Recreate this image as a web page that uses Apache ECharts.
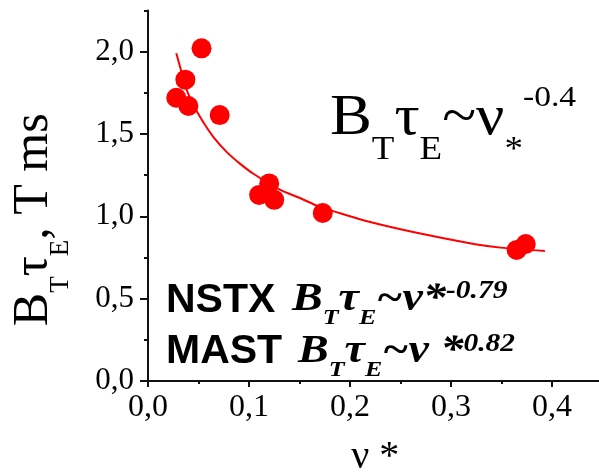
<!DOCTYPE html>
<html lang="en">
<head>
    <meta charset="UTF-8" />
    <title>BT tauE vs nu*</title>
    <script src="https://cdn.jsdelivr.net/npm/echarts@6/dist/echarts.min.js"></script>
    <style>
        html, body { margin: 0; padding: 0; background: #fff; }
    </style>
</head>
<body>
    <div id="main" style="width: 599px; height: 472px"></div>
    <script>
        // measured points
        var pointX = [0.053, 0.037, 0.028, 0.040, 0.071, 0.120, 0.110, 0.125, 0.173, 0.365, 0.374];
        var pointY = [2.02, 1.83, 1.72, 1.67, 1.615, 1.20, 1.13, 1.10, 1.02, 0.796, 0.832];
        // fit curve
        var curveX = [0.028, 0.033, 0.037, 0.043, 0.050, 0.057, 0.065, 0.078, 0.091, 0.104, 0.131, 0.151, 0.169, 0.184, 0.217, 0.266, 0.316, 0.349, 0.393];
        var curveY = [1.99, 1.88, 1.79, 1.70, 1.62, 1.55, 1.48, 1.39, 1.32, 1.26, 1.16, 1.11, 1.06, 1.03, 0.97, 0.90, 0.84, 0.81, 0.79];
        var xTicks = [0, 0.1, 0.2, 0.3, 0.4];
        var yTicks = [0, 0.5, 1.0, 1.5, 2.0];

        var serif = '"Liberation Serif", "Times New Roman", serif';
        var sans = '"Liberation Sans", Arial, sans-serif';

        function comma(v) {
            return v.toFixed(1).replace('.', ',');
        }
        function isIn(list, v) {
            return list.some(function (t) { return Math.abs(t - v) < 1e-6; });
        }

        var mCharts = echarts.init(document.getElementById('main'));

        var axisColor = '#111';

        // rich styles for formulas (tokens aligned to line top, shifted with padding)
        function tok(size, pad, weight, style, family) {
            return {
                fontFamily: family || serif,
                fontSize: size,
                lineHeight: size,
                fontWeight: weight || 'normal',
                fontStyle: style || 'normal',
                color: '#000',
                verticalAlign: 'top',
                padding: [pad, 0, 0, 0]
            };
        }

        var option = {
            animation: false,
            grid: {
                left: 148,
                top: 10.5,
                width: 454.5,
                height: 370.5,
                outerBoundsMode: 'none'
            },
            xAxis: [
                {
                    type: 'value',
                    min: 0,
                    max: 0.45,
                    interval: 0.05,
                    position: 'bottom',
                    name: 'ν *',
                    nameLocation: 'middle',
                    nameGap: 56,
                    nameMoveOverlap: false,
                    nameTextStyle: { fontFamily: serif, fontSize: 40, color: '#000' },
                    axisLine: { onZero: false, lineStyle: { color: axisColor, width: 2 } },
                    axisTick: { show: true, inside: false, length: 3, lineStyle: { color: axisColor, width: 2 } },
                    axisLabel: {
                        margin: 11,
                        fontFamily: serif,
                        fontSize: 32,
                        color: '#000',
                        showMaxLabel: false,
                        formatter: function (v) { return isIn(xTicks, v) ? comma(v) : ''; }
                    },
                    splitLine: { show: false }
                },
                {
                    type: 'value',
                    min: 0,
                    max: 0.45,
                    interval: 0.1,
                    position: 'bottom',
                    axisLine: { show: false, onZero: false },
                    axisTick: { show: true, inside: false, length: 6, lineStyle: { color: axisColor, width: 2 } },
                    axisLabel: { show: false },
                    splitLine: { show: false }
                }
            ],
            yAxis: [
                {
                    type: 'value',
                    min: 0,
                    max: 2.25,
                    interval: 0.25,
                    position: 'left',
                    name: '{b|B}{s|T}{b|τ}{s|E}{e|, T ms}',
                    nameLocation: 'middle',
                    nameRotate: 90,
                    nameGap: 89,
                    nameMoveOverlap: false,
                    nameTextStyle: {
                        rich: {
                            b: tok(50, 0),
                            s: tok(27, 38),
                            e: Object.assign(tok(50, 0), { padding: [0, 48, 0, 0] })
                        }
                    },
                    axisLine: { onZero: false, lineStyle: { color: axisColor, width: 2 } },
                    axisTick: { show: true, inside: false, length: 4, lineStyle: { color: axisColor, width: 2 } },
                    axisLabel: {
                        margin: 14,
                        fontFamily: serif,
                        fontSize: 31,
                        color: '#000',
                        formatter: function (v) { return isIn(yTicks, v) ? comma(v) : ''; }
                    },
                    splitLine: { show: false }
                },
                {
                    type: 'value',
                    min: 0,
                    max: 2.25,
                    interval: 0.5,
                    position: 'left',
                    axisLine: { show: false, onZero: false },
                    axisTick: {
                        show: true,
                        inside: false,
                        length: 8,
                        customValues: yTicks,
                        lineStyle: { color: axisColor, width: 2 }
                    },
                    axisLabel: { show: false },
                    splitLine: { show: false }
                }
            ],
            graphic: [
                {
                    type: 'text',
                    x: 330,
                    y: 80,
                    scaleX: 1.12,
                    style: {
                        text: '{b|B}{s|T}{b|τ}{s|E}{b|~ν}{s|*}{u|-0.4}',
                        verticalAlign: 'top',
                        rich: {
                            b: tok(56, 11),
                            s: tok(33, 54),
                            u: tok(30, 3)
                        }
                    }
                },
                {
                    type: 'text',
                    x: 166,
                    y: 301,
                    style: {
                        text: 'NSTX',
                        font: 'bold 41px ' + sans,
                        fill: '#000',
                        verticalAlign: 'middle'
                    }
                },
                {
                    type: 'text',
                    x: 166,
                    y: 352,
                    style: {
                        text: 'MAST',
                        font: 'bold 41px ' + sans,
                        fill: '#000',
                        verticalAlign: 'middle'
                    }
                },
                {
                    type: 'text',
                    x: 292,
                    y: 275,
                    scaleX: 1.18,
                    style: {
                        text: '{b|B}{s|T}{b|τ}{s|E}{b|~ν*}{u|-0.79}',
                        verticalAlign: 'top',
                        rich: {
                            b: tok(39, 5, 'bold', 'italic'),
                            s: tok(22, 32, 'bold', 'italic'),
                            u: tok(25, 4, 'bold', 'italic')
                        }
                    }
                },
                {
                    type: 'text',
                    x: 298,
                    y: 327,
                    scaleX: 1.18,
                    style: {
                        text: '{b|B}{s|T}{b|τ}{s|E}{b|~ν *}{u|0.82}',
                        verticalAlign: 'top',
                        rich: {
                            b: tok(39, 5, 'bold', 'italic'),
                            s: tok(22, 32, 'bold', 'italic'),
                            u: tok(25, 5, 'bold', 'italic')
                        }
                    }
                }
            ],
            series: [
                {
                    name: 'fit',
                    type: 'line',
                    smooth: 0.3,
                    showSymbol: false,
                    data: curveX.map(function (x, i) { return [x, curveY[i]]; }),
                    lineStyle: { color: '#ff0000', width: 2 },
                    itemStyle: { color: '#ff0000' }
                },
                {
                    name: 'data',
                    type: 'scatter',
                    symbol: 'circle',
                    symbolSize: 20,
                    data: pointX.map(function (x, i) { return [x, pointY[i]]; }),
                    itemStyle: { color: '#ff0000', opacity: 1 }
                }
            ]
        };
        mCharts.setOption(option);
    </script>
</body>
</html>
